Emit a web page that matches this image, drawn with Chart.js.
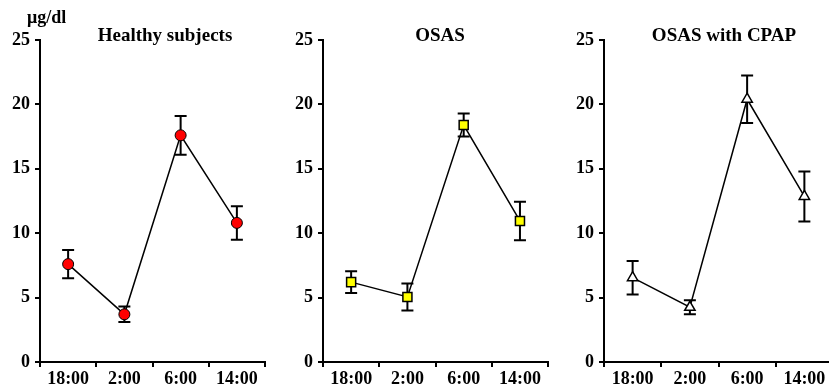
<!DOCTYPE html>
<html>
<head>
<meta charset="utf-8">
<script src="https://cdn.jsdelivr.net/npm/chart.js@4.4.0/dist/chart.umd.min.js"></script>
<style>
  body { margin: 0; background: #fff; }
  #wrap { position: relative; width: 829px; height: 390px; overflow: hidden; }
  canvas { position: absolute; top: 0; }
  .ttl { position: absolute; width: 220px; text-align: center; font: bold 19px "Liberation Serif", serif; line-height: 19px; color: #000; }
  #unit { position: absolute; left: 27px; top: 8px; font: bold 18px "Liberation Serif", serif; line-height: 18px; color: #000; }
</style>
</head>
<body>
<div id="wrap">
  <canvas id="healthy" width="276" height="390" style="left:0px"></canvas>
  <canvas id="osas" width="280" height="390" style="left:276px"></canvas>
  <canvas id="cpap" width="296" height="390" style="left:556px"></canvas>
  <div id="unit">μg/dl</div>
  <div class="ttl" style="left:55px;top:25px">Healthy subjects</div>
  <div class="ttl" style="left:330px;top:25px">OSAS</div>
  <div class="ttl" style="left:614px;top:25px">OSAS with CPAP</div>
</div>
<script>
const times = ['18:00', '2:00', '6:00', '14:00'];
const yTicks = [0, 5, 10, 15, 20, 25];

const healthyMean = [7.6, 3.7, 17.6, 10.8];
const healthyErr = [1.1, 0.6, 1.5, 1.3];

const osasMean = [6.2, 5.05, 18.4, 10.95];
const osasErr = [0.85, 1.05, 0.9, 1.5];

const cpapMean = [6.55, 4.25, 20.4, 12.85];
const cpapErr = [1.3, 0.55, 1.85, 1.95];

const serif = '"Liberation Serif", "Times New Roman", serif';

// error bars, drawn under the markers
const errorBars = {
  id: 'errorBars',
  beforeDatasetsDraw(chart) {
    const ctx = chart.ctx;
    const ds = chart.data.datasets[0];
    const y = chart.scales.y;
    const meta = chart.getDatasetMeta(0);
    ctx.save();
    ctx.strokeStyle = '#000';
    ctx.lineWidth = 2;
    meta.data.forEach((pt, i) => {
      const top = y.getPixelForValue(ds.data[i] + ds.errors[i]);
      const bot = y.getPixelForValue(ds.data[i] - ds.errors[i]);
      ctx.beginPath();
      ctx.moveTo(pt.x, top); ctx.lineTo(pt.x, bot);
      ctx.moveTo(pt.x - 6, top); ctx.lineTo(pt.x + 6, top);
      ctx.moveTo(pt.x - 6, bot); ctx.lineTo(pt.x + 6, bot);
      ctx.stroke();
    });
    ctx.restore();
  }
};

function makePanel(id, means, errs, style, radius, fill, border, yWidth, rightPad) {
  return new Chart(document.getElementById(id), {
    type: 'line',
    data: {
      labels: times,
      datasets: [{
        data: means,
        errors: errs,
        borderColor: '#000',
        borderWidth: 1.5,
        tension: 0,
        pointStyle: style,
        pointRadius: radius,
        pointBackgroundColor: fill,
        pointBorderColor: '#000',
        pointBorderWidth: border,
        clip: false
      }]
    },
    options: {
      responsive: false,
      animation: false,
      events: [],
      layout: { padding: { top: 40, right: rightPad, left: 0, bottom: 0 } },
      plugins: { legend: { display: false }, tooltip: { enabled: false } },
      scales: {
        x: {
          offset: true,
          grid: { offset: true, drawOnChartArea: false, tickLength: 5, color: '#000', lineWidth: 2 },
          border: { color: '#000', width: 2 },
          ticks: { color: '#000', padding: 2, maxRotation: 0, font: { family: serif, size: 18, weight: 'bold' } },
          afterFit(scale) { scale.height = 28; }
        },
        y: {
          min: 0,
          max: 25,
          afterBuildTicks(scale) { scale.ticks = yTicks.map(v => ({ value: v })); },
          grid: { drawOnChartArea: false, tickLength: 5, color: '#000', lineWidth: 2 },
          border: { color: '#000', width: 2 },
          ticks: { color: '#000', padding: 5, font: { family: serif, size: 18, weight: 'bold' } },
          afterFit(scale) { scale.width = yWidth; }
        }
      }
    },
    plugins: [errorBars]
  });
}

makePanel('healthy', healthyMean, healthyErr, 'circle', 5.5, '#ff0000', 1, 40, 11);
makePanel('osas', osasMean, osasErr, 'rect', 6.4, '#ffff00', 1.5, 47, 7);
makePanel('cpap', cpapMean, cpapErr, 'triangle', 6, '#ffffff', 1.5, 48, 19);
</script>
</body>
</html>
